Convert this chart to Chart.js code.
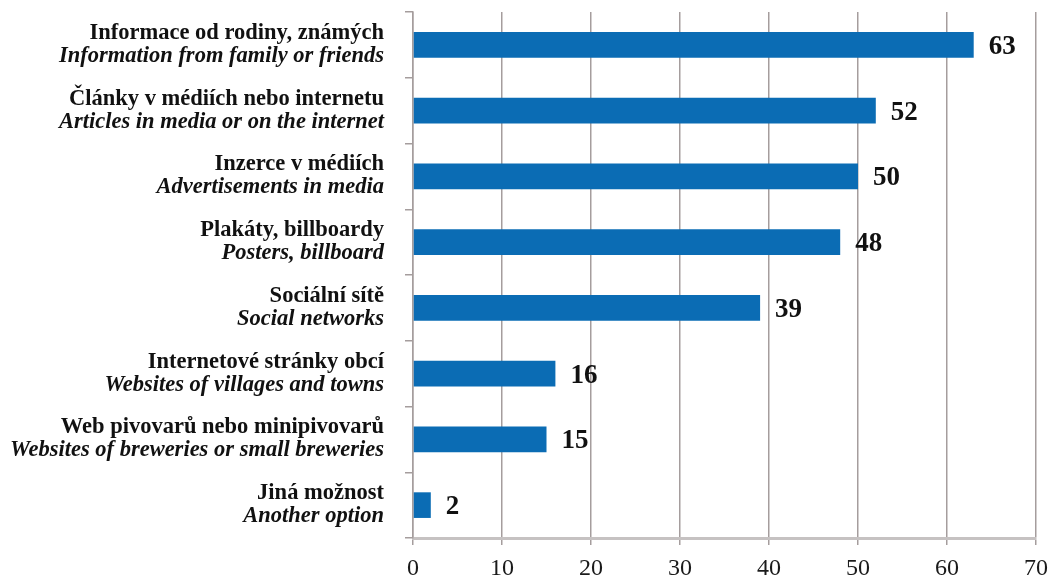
<!DOCTYPE html>
<html>
<head>
<meta charset="utf-8">
<script src="https://cdn.jsdelivr.net/npm/chart.js@4/dist/chart.umd.min.js"></script>
<style>
  html, body { margin: 0; padding: 0; background: #fff; overflow: hidden; }
  #wrap { width: 1049px; height: 575px; }
</style>
</head>
<body>
<div id="wrap"><canvas id="chart"></canvas></div>
<script>
// Czech / English category names, top to bottom
const labelsCz = [
  "Informace od rodiny, známých",
  "Články v médiích nebo internetu",
  "Inzerce v médiích",
  "Plakáty, billboardy",
  "Sociální sítě",
  "Internetové stránky obcí",
  "Web pivovarů nebo minipivovarů",
  "Jiná možnost"
];
const labelsEn = [
  "Information from family or friends",
  "Articles in media or on the internet",
  "Advertisements in media",
  "Posters, billboard",
  "Social networks",
  "Websites of villages and towns",
  "Websites of breweries or small breweries",
  "Another option"
];
const values = [63, 52, 50, 48, 39, 16, 15, 2];
const xTicks = [0, 10, 20, 30, 40, 50, 60, 70];

const SERIF = '"Liberation Serif", "Times New Roman", serif';

// two-line category labels (bold Czech, italic English) drawn beside the axis
const categoryLabels = {
  id: "categoryLabels",
  afterDraw(chart) {
    const ctx = chart.ctx;
    const y = chart.scales.y;
    const right = chart.chartArea.left - 29;
    ctx.save();
    ctx.fillStyle = "#111";
    ctx.textAlign = "right";
    ctx.textBaseline = "alphabetic";
    labelsCz.forEach((cz, i) => {
      const py = y.getPixelForValue(i);
      ctx.font = "bold 22.5px " + SERIF;
      ctx.fillText(cz, right, py - 6);
      ctx.font = "italic bold 22.5px " + SERIF;
      ctx.fillText(labelsEn[i], right, py + 17);
    });
    ctx.restore();
  }
};

// value numbers at the end of each bar
const valueLabels = {
  id: "valueLabels",
  afterDatasetsDraw(chart) {
    const ctx = chart.ctx;
    const meta = chart.getDatasetMeta(0);
    ctx.save();
    ctx.fillStyle = "#111";
    ctx.font = "bold 27px " + SERIF;
    ctx.textAlign = "left";
    ctx.textBaseline = "alphabetic";
    meta.data.forEach((bar, i) => {
      ctx.fillText(String(values[i]), bar.x + 15, bar.y + 9);
    });
    ctx.restore();
  }
};

new Chart(document.getElementById("chart"), {
  type: "bar",
  data: {
    labels: labelsCz,
    datasets: [{
      data: values,
      backgroundColor: "#0b6cb4",
      borderWidth: 0,
      barPercentage: 0.39,
      categoryPercentage: 1.0
    }]
  },
  options: {
    indexAxis: "y",
    responsive: true,
    maintainAspectRatio: false,
    animation: false,
    layout: { padding: { top: 12, right: 13, bottom: 0, left: 0 } },
    plugins: {
      legend: { display: false },
      tooltip: { enabled: false }
    },
    scales: {
      x: {
        min: 0,
        max: 70,
        afterBuildTicks: scale => { scale.ticks = xTicks.map(v => ({ value: v })); },
        afterFit: scale => {
          scale.height = 37;
          scale.paddingLeft = 0;
          scale.paddingRight = 0;
        },
        grid: {
          color: "#a59d9d",
          lineWidth: 1.5,
          drawTicks: true,
          tickLength: 7
        },
        border: { display: true, color: "#c6c2c2", width: 3 },
        ticks: {
          color: "#1a1a1a",
          padding: 9,
          font: { family: SERIF, size: 24 }
        }
      },
      y: {
        afterFit: scale => { scale.width = 413; },
        grid: {
          offset: true,
          drawOnChartArea: false,
          drawTicks: true,
          tickLength: 8,
          color: "#a59d9d",
          lineWidth: 1.5
        },
        border: { display: true, color: "#a59d9d", width: 1.5 },
        ticks: { display: false }
      }
    }
  },
  plugins: [categoryLabels, valueLabels]
});
</script>
</body>
</html>
